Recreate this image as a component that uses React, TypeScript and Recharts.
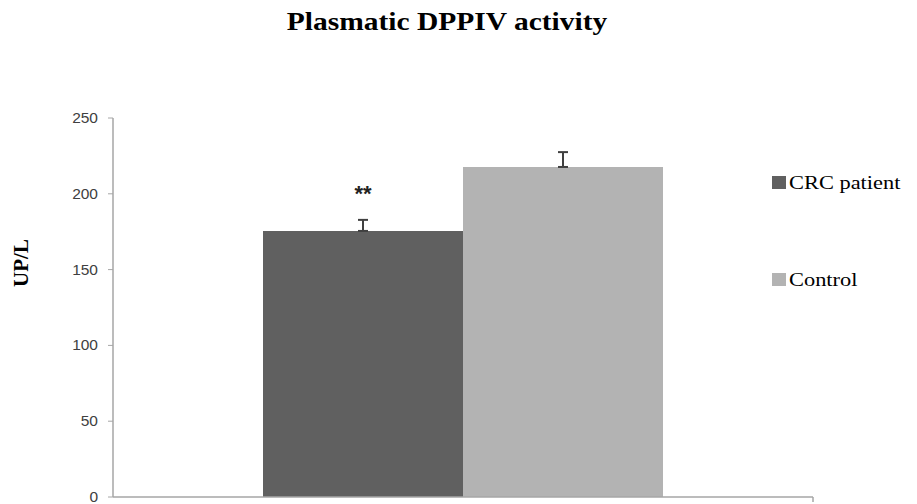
import React from "react";
import { BarChart, Bar, XAxis, YAxis, ErrorBar, LabelList } from "recharts";

const categories = [""];
const crcValues = [175.5];
const controlValues = [217.7];
const crcErrors = [[0, 7.3]];
const controlErrors = [[0, 9.8]];
const crcMarks = ["**"];
const yTicks = [0, 50, 100, 150, 200, 250];
const seriesNames = ["CRC patient", "Control"];
const seriesColors = ["#606060", "#b3b3b3"];

const data = categories.map((c, i) => ({
  name: c,
  crc: crcValues[i],
  control: controlValues[i],
  crcErr: crcErrors[i],
  controlErr: controlErrors[i],
  stars: crcMarks[i],
}));

const SERIF = "Liberation Serif, Times New Roman, serif";

const YTick = (props: any) => {
  const { x, y, payload } = props;
  return (
    <text
      x={x}
      y={y + 5}
      textAnchor="end"
      fontFamily="Liberation Sans, Arial, sans-serif"
      fontSize={15.5}
      fill="#404040"
    >
      {payload.value}
    </text>
  );
};

export default function App() {
  return (
    <div style={{ position: "relative", width: 917, height: 504, background: "#fff" }}>
      <style>{`body{margin:0}`}</style>
      <BarChart
        width={917}
        height={504}
        data={data}
        margin={{ top: 118, right: 104, bottom: 6, left: 0 }}
        barGap={0}
      >
        <XAxis dataKey="name" tick={false} tickLine={false} axisLine={{ stroke: "#a6a6a6", strokeWidth: 1.5 }} height={1} />
        <YAxis
          width={113}
          domain={[0, 250]}
          ticks={yTicks}
          tick={<YTick />}
          tickSize={5}
          tickMargin={10}
          tickLine={{ stroke: "#a6a6a6" }}
          axisLine={{ stroke: "#a6a6a6", strokeWidth: 1.5 }}
          interval={0}
        />
        <Bar dataKey="crc" name={seriesNames[0]} fill={seriesColors[0]} barSize={200} isAnimationActive={false}>
          <ErrorBar dataKey="crcErr" width={5} stroke="#404040" strokeWidth={2} />
          <LabelList
            dataKey="stars"
            position="top"
            offset={30}
            fill="#222"
            fontSize={22}
            fontWeight="bold"
            fontFamily="Liberation Sans, Arial, sans-serif"
          />
        </Bar>
        <Bar dataKey="control" name={seriesNames[1]} fill={seriesColors[1]} barSize={200} isAnimationActive={false}>
          <ErrorBar dataKey="controlErr" width={5} stroke="#404040" strokeWidth={2} />
        </Bar>
      </BarChart>
      <svg width={917} height={504} style={{ position: "absolute", left: 0, top: 0, pointerEvents: "none" }}>
        <text
          transform="translate(447,30) scale(1.18,1)"
          textAnchor="middle"
          fontFamily={SERIF}
          fontWeight="bold"
          fontSize={25}
          fill="#000"
        >
          Plasmatic DPPIV activity
        </text>
        <text
          transform="translate(28,263) rotate(-90)"
          textAnchor="middle"
          fontFamily={SERIF}
          fontWeight="bold"
          fontSize={21}
          fill="#000"
        >
          UP/L
        </text>
        <line x1={813} y1={497} x2={813} y2={502} stroke="#a6a6a6" strokeWidth={1.5} />
        {seriesNames.map((n, i) => (
          <g key={n}>
            <rect x={772} y={176 + i * 97} width={14} height={13} fill={seriesColors[i]} />
            <text
              transform={`translate(789,${189 + i * 97}) scale(1.18,1)`}
              fontFamily={SERIF}
              fontSize={19}
              fill="#000"
            >
              {n}
            </text>
          </g>
        ))}
      </svg>
    </div>
  );
}
